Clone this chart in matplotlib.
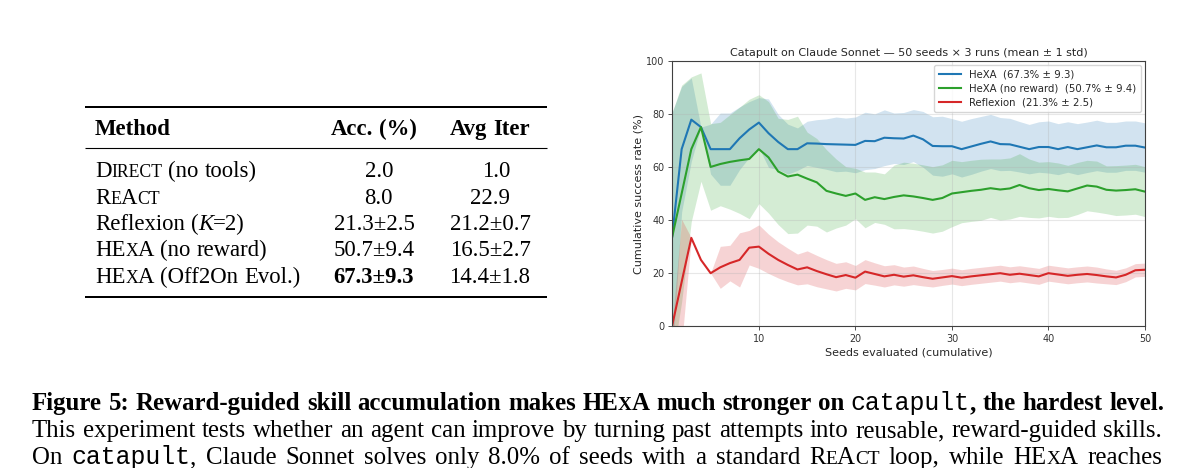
import numpy as np
import matplotlib
matplotlib.use('Agg')
import matplotlib.pyplot as plt
from matplotlib.transforms import IdentityTransform
from matplotlib.lines import Line2D

# ---------------- data ----------------
seeds = np.arange(1, 51)

hexa_mean = [33.3, 66.7, 77.8, 75.0, 66.7, 66.7, 66.7, 70.8, 74.1, 76.7,
             72.7, 69.4, 66.7, 66.7, 68.9, 68.8, 68.6, 68.5, 68.4, 68.3,
             69.8, 69.7, 71.0, 70.8, 70.7, 71.8, 70.4, 67.9, 67.8, 67.8,
             66.7, 67.7, 68.7, 69.6, 68.6, 68.5, 67.6, 66.7, 67.5, 67.5,
             66.7, 67.5, 66.7, 67.4, 68.1, 67.4, 67.4, 68.0, 68.0, 67.3]
hexa_std = [47.1, 23.6, 15.7, 0.0, 9.4, 13.6, 13.6, 11.8, 10.5, 9.4,
            12.9, 10.4, 9.4, 8.0, 8.3, 9.0, 9.5, 10.3, 10.0, 10.5,
            10.8, 10.3, 10.5, 9.5, 9.8, 9.8, 10.5, 11.0, 11.3, 10.4,
            10.5, 10.5, 10.3, 10.2, 10.0, 9.8, 9.5, 9.3, 9.5, 9.8,
            9.6, 9.5, 9.6, 9.5, 9.5, 9.4, 9.4, 9.3, 9.3, 9.3]

noreward_mean = [33.3, 50.0, 66.7, 75.0, 60.0, 61.1, 61.9, 62.5, 63.0, 66.7,
                 63.6, 58.3, 56.4, 57.1, 55.6, 54.2, 51.0, 50.0, 49.1, 50.0,
                 47.6, 48.6, 47.9, 48.7, 49.3, 48.9, 48.3, 47.6, 48.3, 50.0,
                 50.5, 51.0, 51.4, 52.0, 51.5, 51.9, 53.2, 52.0, 51.3, 51.7,
                 51.2, 50.8, 51.9, 53.0, 52.6, 51.4, 51.1, 51.3, 51.6, 50.7]
noreward_std = [47.1, 40.8, 27.2, 20.4, 16.3, 15.7, 17.8, 20.0, 22.5, 20.5,
                21.0, 20.0, 21.5, 22.0, 17.5, 16.5, 15.5, 13.0, 11.0, 9.5,
                10.5, 9.5, 9.5, 12.0, 12.5, 12.5, 12.5, 12.5, 12.5, 12.5,
                11.5, 11.5, 11.5, 11.0, 11.5, 11.5, 11.8, 11.0, 10.5, 10.3,
                10.3, 9.8, 9.8, 9.5, 9.6, 9.0, 9.4, 9.4, 9.4, 9.4]

reflexion_mean = [0.0, 16.7, 33.3, 25.0, 20.0, 22.2, 23.8, 25.0, 29.6, 30.0,
                  27.3, 25.0, 23.1, 21.4, 22.2, 20.8, 19.6, 18.5, 19.3, 18.3,
                  20.6, 19.7, 18.8, 19.4, 18.7, 19.2, 18.5, 17.9, 18.4, 18.9,
                  18.3, 18.8, 19.2, 19.6, 20.0, 19.4, 19.8, 19.3, 18.8, 20.0,
                  19.5, 19.0, 19.4, 19.7, 19.3, 18.8, 18.4, 19.4, 21.1, 21.3]
reflexion_std = [0.0, 23.6, 0.0, 0.0, 0.0, 7.9, 6.7, 10.2, 6.5, 8.2,
                 7.4, 6.8, 6.3, 5.8, 6.2, 5.9, 5.5, 5.2, 5.0, 4.6,
                 4.5, 4.2, 4.0, 3.8, 3.6, 3.5, 3.3, 3.1, 3.0, 3.0,
                 3.0, 3.0, 3.0, 3.0, 3.0, 3.0, 3.0, 3.0, 3.0, 3.0,
                 3.0, 3.0, 3.0, 3.0, 3.0, 2.8, 2.7, 2.6, 2.5, 2.5]

series_labels = ["HeXA  (67.3% \u00b1 9.3)",
                 "HeXA (no reward)  (50.7% \u00b1 9.4)",
                 "Reflexion  (21.3% \u00b1 2.5)"]
series_colors = ["#1f77b4", "#2ca02c", "#d62728"]

plot_title = "Catapult on Claude Sonnet \u2014 50 seeds \u00d7 3 runs (mean \u00b1 1 std)"
x_label = "Seeds evaluated (cumulative)"
y_label = "Cumulative success rate (%)"
x_ticks = [10, 20, 30, 40, 50]
y_ticks = [0, 20, 40, 60, 80, 100]

table_header = ["Method", "Acc. (%)", "Avg Iter"]
table_acc = ["2.0", "8.0", "21.3\u00b12.5", "50.7\u00b19.4", "67.3\u00b19.3"]
table_iter = ["1.0", "22.9", "21.2\u00b10.7", "16.5\u00b12.7", "14.4\u00b11.8"]

# ---------------- figure ----------------
W, H, DPI = 1200, 468, 100
fig = plt.figure(figsize=(W / DPI, H / DPI), dpi=DPI)
renderer = fig.canvas.get_renderer()
ID = IdentityTransform()

SERIF = 'Liberation Serif'
MONO = 'Liberation Mono'
FS = 16.4          # table font size (pt)
SC = 12.7          # table small-caps size


def P(size=FS, weight='normal', style='normal', family=SERIF):
    return dict(fontsize=size, fontweight=weight, fontstyle=style, family=family)


def ink_w(s, pr):
    t = fig.text(0, 0, s, transform=ID, **pr)
    w = t.get_window_extent(renderer).width
    t.remove()
    return w


def adv(s, pr):
    return ink_w('x' + s + 'x', pr) - ink_w('xx', pr)


def tokens(segs):
    items = []
    for txt, pr in segs:
        parts = txt.split(' ')
        for i, p in enumerate(parts):
            if i > 0:
                items.append((None, pr))
            if p:
                items.append((p, pr))
    return items


def line_width(segs):
    items = tokens(segs)
    return sum(adv(' ' if w is None else w, pr) for w, pr in items)


def rich_line(x0, y_img, segs, right=None):
    items = tokens(segs)
    widths = [adv(' ' if w is None else w, pr) for w, pr in items]
    nsp = sum(1 for w, _ in items if w is None)
    extra = 0.0
    if right is not None and nsp:
        extra = (right - x0 - sum(widths)) / nsp
    x = x0
    y = H - y_img
    for (w, pr), wd in zip(items, widths):
        if w is None:
            x += wd + extra
        else:
            fig.text(x, y, w, transform=ID, va='baseline', ha='left', **pr)
            x += wd


def rich_center(xc, y_img, segs):
    w = line_width(segs)
    rich_line(xc - w / 2, y_img, segs)


def rich_right(xr, y_img, segs):
    w = line_width(segs)
    rich_line(xr - w, y_img, segs)


def hrule(x0, x1, y_img, lw_px):
    fig.add_artist(Line2D([x0, x1], [H - y_img, H - y_img], transform=ID,
                          color='black', lw=lw_px * 72 / DPI,
                          solid_capstyle='butt'))


# ---------------- plot ----------------
ax_l, ax_r, ax_t, ax_b = 672, 1145, 60.7, 326.3
ax = fig.add_axes([ax_l / W, 1 - ax_b / H, (ax_r - ax_l) / W, (ax_b - ax_t) / H])

for mean, std, lab, col in zip([hexa_mean, noreward_mean, reflexion_mean],
                               [hexa_std, noreward_std, reflexion_std],
                               series_labels, series_colors):
    m = np.array(mean)
    s = np.array(std)
    ax.fill_between(seeds, m - s, m + s, color=col, alpha=0.2, linewidth=0)
    ax.plot(seeds, m, color=col, lw=1.5, label=lab)

ax.set_xlim(1, 50)
ax.set_ylim(0, 100)
ax.set_xticks(x_ticks)
ax.set_yticks(y_ticks)
ax.grid(True, alpha=0.3)
ax.tick_params(labelsize=6.9, length=3, width=0.6, pad=2.5, colors='0.2')
for sp in ax.spines.values():
    sp.set_color('0.25')
    sp.set_linewidth(0.8)
ax.set_title(plot_title, fontsize=8.0, pad=3.5, color='0.15')
ax.set_xlabel(x_label, fontsize=8.0, labelpad=2.5, color='0.15')
ax.set_ylabel(y_label, fontsize=8.0, labelpad=2, color='0.15')
leg = ax.legend(loc='upper right', fontsize=7.3, handlelength=2.2,
                borderpad=0.45, labelspacing=0.4, borderaxespad=0.4,
                handletextpad=0.8)
for t in leg.get_texts():
    t.set_color('0.15')

# ---------------- table ----------------
tx0, tx1 = 85, 547
hrule(tx0, tx1, 106.7, 2.0)
hrule(tx0, tx1, 147.7, 1.1)
hrule(tx0, tx1, 297.3, 2.0)

B = P(weight='bold')
R = P()
S = P(size=SC)
I = P(style='italic')
col2, col3 = 374, 490

rich_line(95, 135, [(table_header[0], B)])
rich_center(col2, 135, [(table_header[1], B)])
rich_center(col3, 135, [(table_header[2], B)])

row_base = [177, 203.5, 230, 256.5, 283]
method_segs = [
    [("D", R), ("IRECT", S), (" (no tools)", R)],
    [("R", R), ("E", S), ("A", R), ("CT", S)],
    [("Reflexion (", R), ("K", I), ("=2)", R)],
    [("HE", R), ("X", S), ("A (no reward)", R)],
    [("HE", R), ("X", S), ("A (Off2On Evol.)", R)],
]
for yb, segs in zip(row_base, method_segs):
    rich_line(95, yb, segs)

for i, (yb, a, it) in enumerate(zip(row_base, table_acc, table_iter)):
    if '\u00b1' in a:
        rich_center(col2, yb, [(a, B if i == 4 else R)])
    else:
        rich_right(393, yb, [(a, R)])
    if '\u00b1' in it:
        rich_center(col3, yb, [(it, R)])
    else:
        rich_right(510, yb, [(it, R)])

# ---------------- caption ----------------
cap_x0, cap_x1 = 32, 1162
line2_text = ("This experiment tests whether an agent can improve by turning "
              "past attempts into reusable, reward-guided skills.")
nat = line_width([(line2_text, P())])
CFS = FS * (cap_x1 - cap_x0 - 6) / nat      # caption body size (natural width fit)
CSC = CFS * SC / FS
CR = P(size=CFS)
CB = P(size=CFS, weight='bold')
CM = P(size=CFS, family=MONO)
CS = P(size=CSC)

rich_line(cap_x0, 410, [("Figure 5: Reward-guided skill accumulation makes HE", CB),
                        ("X", P(size=CSC, weight='bold')),
                        ("A much stronger on ", CB), ("catapult", CM),
                        (", the hardest level.", CB)], right=cap_x1 + 2)
rich_line(cap_x0, 437.3, [(line2_text, CR)], right=cap_x1)
rich_line(cap_x0, 464, [("On ", CR), ("catapult", CM),
                        (", Claude Sonnet solves only 8.0% of seeds with a standard R", CR),
                        ("E", CS), ("A", CR), ("CT", CS), (" loop, while HE", CR),
                        ("X", CS), ("A reaches", CR)], right=cap_x1)

fig.savefig('out.png', dpi=DPI)
